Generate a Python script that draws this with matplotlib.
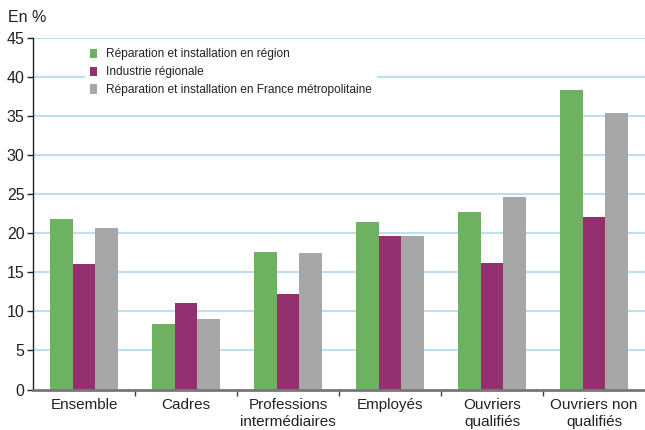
import matplotlib
matplotlib.use("Agg")
import matplotlib.pyplot as plt
import numpy as np

categories = ["Ensemble", "Cadres", "Professions\nintermédiaires", "Employés",
              "Ouvriers\nqualifiés", "Ouvriers non\nqualifiés"]
series_names = ["Réparation et installation en région",
                "Industrie régionale",
                "Réparation et installation en France métropolitaine"]
region = [21.8, 8.4, 17.6, 21.4, 22.7, 38.3]
industrie = [16.1, 11.1, 12.2, 19.6, 16.2, 22.0]
france = [20.6, 9.0, 17.4, 19.6, 24.6, 35.3]
colors = ["#6db261", "#93306f", "#a8a7a8"]
yticks = [0, 5, 10, 15, 20, 25, 30, 35, 40, 45]

plt.rcParams['font.family'] = ['Liberation Sans', 'DejaVu Sans']

fig = plt.figure(figsize=(6.45, 4.3), dpi=100)
ax = fig.add_axes([33/645, 1-389.5/430, 612/645, (389.5-37.5)/430])

x = np.arange(len(categories))
w = 0.222
for i, (vals, name) in enumerate(zip([region, industrie, france], series_names)):
    ax.bar(x + (i-1)*w, vals, width=w, color=colors[i], label=name, zorder=3)

ax.set_xlim(-0.5, len(categories)-0.5)
ax.set_ylim(0, 45)
ax.set_yticks(yticks)
ax.set_yticklabels([str(t) for t in yticks], fontsize=11.5, color="#222222")
for t in yticks[1:]:
    ax.axhline(t, color="#bcdff2", lw=1.5, zorder=1)

ax.set_xticks(x)
ax.set_xticklabels(categories, fontsize=11, color="#222222", linespacing=1.25)
ax.tick_params(axis='x', which='major', length=0, pad=6)
ax.set_xticks(np.arange(0.5, len(categories)-0.5, 1), minor=True)
ax.tick_params(axis='x', which='minor', length=4, width=1, color="#444444")
ax.tick_params(axis='y', length=4, width=1, color="#222222", pad=2)

for s in ['top', 'right']:
    ax.spines[s].set_visible(False)
ax.spines['left'].set_color("#222222")
ax.spines['left'].set_linewidth(1)
ax.spines['bottom'].set_color("#777777")
ax.spines['bottom'].set_linewidth(2)
ax.spines['bottom'].set_zorder(4)

leg = ax.legend(loc='upper left', bbox_to_anchor=(0.075, 1.0), frameon=True,
                fontsize=8.6, handlelength=0.65, handleheight=0.8, handletextpad=0.75,
                labelspacing=0.5, borderpad=0.4, fancybox=False)
leg.get_frame().set_facecolor("white")
leg.get_frame().set_edgecolor("none")
leg.get_frame().set_alpha(1)
leg.set_zorder(5)
for t in leg.get_texts():
    t.set_color("#222222")

fig.text(8/645, 1-18/430, "En %", fontsize=11.5, color="#222222", va='center', ha='left')

fig.savefig("out.png", dpi=100)
